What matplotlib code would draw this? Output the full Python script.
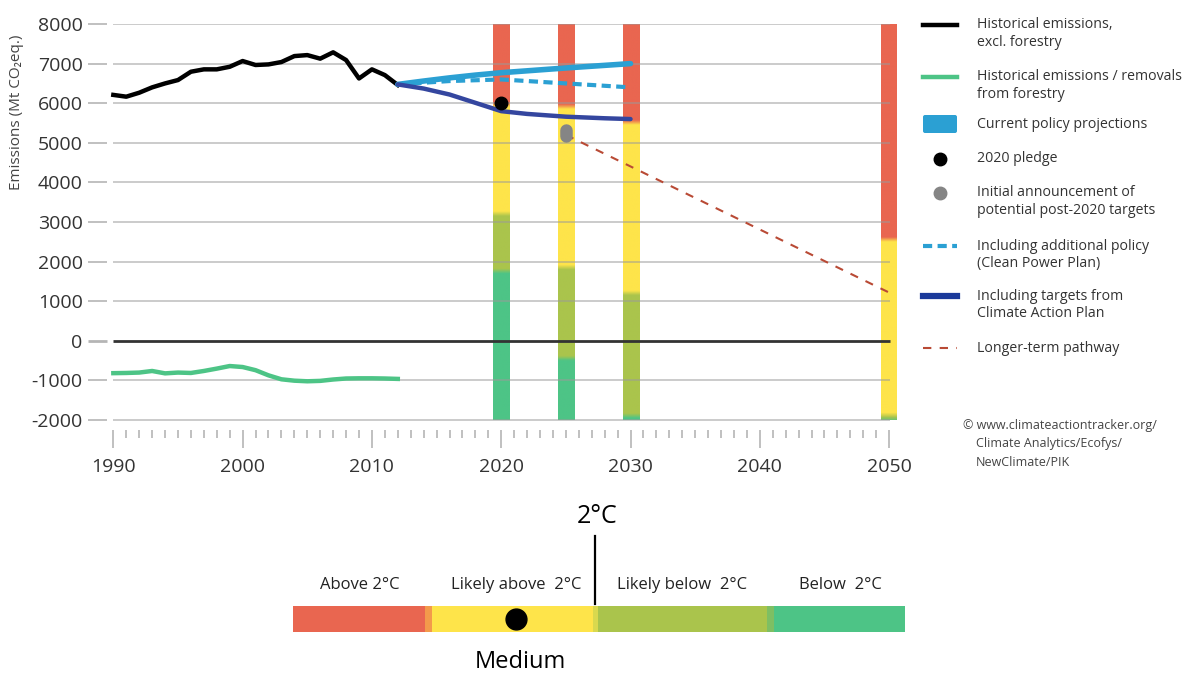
import numpy as np
import matplotlib
matplotlib.use("Agg")
import matplotlib.pyplot as plt
from matplotlib.colors import to_rgb
from matplotlib.patches import FancyBboxPatch

plt.rcParams['font.family'] = ['Open Sans', 'DejaVu Sans']

# historical data
hist_years = list(range(1990, 2013))
hist_emis = [6210, 6165, 6265, 6400, 6500, 6585, 6795, 6855, 6855, 6920, 7065, 6965,
             6980, 7040, 7190, 7215, 7125, 7285, 7090, 6625, 6855, 6710, 6460]
forest = [-815, -810, -800, -760, -820, -800, -810, -760, -700, -635, -660, -740,
          -870, -970, -1005, -1020, -1010, -975, -950, -945, -945, -950, -960]

# projections
cpp_years = [2012, 2014, 2016, 2018, 2020, 2025, 2030]
cpp_vals = [6475, 6560, 6640, 6710, 6770, 6890, 7000]
addl_years = [2012, 2016, 2020, 2025, 2030]
addl_vals = [6475, 6560, 6600, 6500, 6400]
cap_years = [2012, 2014, 2016, 2018, 2020, 2022, 2025, 2028, 2030]
cap_vals = [6475, 6370, 6220, 6010, 5800, 5730, 5660, 5620, 5600]
pledge_year, pledge_val = 2020, 6000
post2020_year, post2020_range = 2025, [5180, 5330]
longterm_years = [2025, 2050]
longterm_vals = [5200, 1220]

# rating columns: year, red above t1, yellow above t2, olive above t3, green below
col_years = [2020, 2025, 2030, 2050]
col_t1 = [5950, 5900, 5500, 2550]
col_t2 = [3200, 1850, 1200, -1880]
col_t3 = [1750, -450, -1900, -1990]

# rating bar
rating_widths = [21.6, 1.1, 26.3, 0.9, 27.6, 1.1, 21.4]
rating_colors = ['#E96650', '#F39A4B', '#FEE44A', '#D9D94E', '#AAC44C', '#7EBF63', '#4DC486']
rating_labels = ['Above 2°C', 'Likely above  2°C', 'Likely below  2°C', 'Below  2°C']
rating_label_pos = [10.9, 36.5, 63.6, 89.4]
rating_value = 36.4
two_deg_pos = 49.3

RED, YEL, OLI, GRN = '#E96650', '#FEE44A', '#AAC44C', '#4DC486'

fig = plt.figure(figsize=(11.86, 6.73), dpi=100)
W, H = 1186, 673
ax = fig.add_axes([107 / W, 1 - 430 / H, (897 - 107) / W, (430 - 24) / H])

yt = list(range(-2000, 8001, 1000))
ax.set_yticks(yt)
ax.set_yticklabels([str(v) for v in yt])
ax.hlines([v for v in yt if v != 0], 1990, 2050.1, color='#9a9a9a', lw=1.3, alpha=0.55, zorder=3)
ax.hlines(0, 1990, 2050.1, color='#333333', lw=2, zorder=3)

# gradient columns
n = 500
yy = np.linspace(-2000, 8000, n)
blend = 120.0
for yr, t1, t2, t3 in zip(col_years, col_t1, col_t2, col_t3):
    img = np.zeros((n, 1, 3))
    for i, v in enumerate(yy):
        c = np.array(to_rgb(GRN))
        for t, col in [(t3, OLI), (t2, YEL), (t1, RED)]:
            w = np.clip((v - t) / blend + 0.5, 0, 1)
            c = c * (1 - w) + np.array(to_rgb(col)) * w
        img[i, 0] = c
    ax.imshow(img, extent=(yr - 0.62, yr + 0.62, -2000, 8000), origin='lower',
              aspect='auto', interpolation='bilinear', zorder=2)
ax.set_xlim(1989.51, 2050.61)
ax.set_ylim(-2250, 8000)

ax.plot(hist_years, hist_emis, color='black', lw=3.2, zorder=5, solid_joinstyle='round')
ax.plot(hist_years, forest, color='#4DC486', lw=3.2, zorder=5)
ax.plot(cpp_years, cpp_vals, color='#2BA0D3', lw=4, zorder=5, solid_capstyle='round')
ax.plot(addl_years, addl_vals, color='#2BA0D3', lw=3, ls=(0, (2.2, 1.3)), zorder=5)
ax.plot(cap_years, cap_vals, color='#34469F', lw=3.2, zorder=6, solid_capstyle='round')
ax.plot(longterm_years, longterm_vals, color='#B94A35', lw=1.5, ls=(0, (4, 4)), zorder=5)
ax.plot([post2020_year] * 2, post2020_range, color='#858585', lw=9,
        solid_capstyle='round', zorder=7)
ax.plot(pledge_year, pledge_val, 'o', color='black', ms=9, zorder=7)

ax.set_xticks(range(1990, 2051, 10))
ax.set_xticks(range(1990, 2051), minor=True)
ax.tick_params(axis='x', which='major', length=13, width=1.2, color='#b5b5b5',
               labelsize=14, labelcolor='#333333', pad=7)
ax.tick_params(axis='x', which='minor', length=6, width=1.2, color='#b5b5b5')
ax.tick_params(axis='y', length=13.5, width=1.2, color='#b5b5b5',
               labelsize=14, labelcolor='#333333', pad=4)
for t in ax.yaxis.get_major_ticks():
    if t.get_loc() == 0:
        t.tick1line.set_color('#333333')
        t.tick1line.set_markeredgewidth(2)
for s in ax.spines.values():
    s.set_visible(False)

fig.text(17 / W, 1 - 112 / H, 'Emissions (Mt CO₂eq.)', rotation=90, fontsize=11,
         color='#444444', ha='center', va='center')

# legend and notes drawn in pixel space
lax = fig.add_axes([0, 0, 1, 1], zorder=10)
lax.set_xlim(0, W)
lax.set_ylim(H, 0)
lax.axis('off')

leg_items = [
    (25, ['Historical emissions,', 'excl. forestry']),
    (77, ['Historical emissions / removals', 'from forestry']),
    (124, ['Current policy projections']),
    (159, ['2020 pledge']),
    (193, ['Initial announcement of', 'potential post-2020 targets']),
    (246, ['Including additional policy', '(Clean Power Plan)']),
    (296, ['Including targets from', 'Climate Action Plan']),
    (348, ['Longer-term pathway']),
]
for y, lines in leg_items:
    for k, line in enumerate(lines):
        lax.text(977, y + k * 17.5, line, fontsize=10.2, color='#333333', va='center', ha='left')

lax.plot([923, 957], [25, 25], color='black', lw=3.2)
lax.plot([923, 957], [77, 77], color='#4DC486', lw=3.2)
lax.add_patch(FancyBboxPatch((923, 115), 34, 18, boxstyle='round,pad=0,rounding_size=2',
                             color='#2BA0D3', lw=0))
lax.plot(940, 159, 'o', color='black', ms=9)
lax.plot(940, 193, 'o', color='#858585', ms=9)
lax.plot([923, 957], [246, 246], color='#2BA0D3', lw=3, ls=(0, (2.2, 1.3)))
lax.plot([923, 957], [296, 296], color='#1B3A9A', lw=4.5)
lax.plot([923, 957], [348, 348], color='#B94A35', lw=1.5, ls=(0, (4, 4)))

lax.text(963, 426, '© www.climateactiontracker.org/', fontsize=9, color='#444444', va='center', ha='left')
for k, line in enumerate(['Climate Analytics/Ecofys/', 'NewClimate/PIK']):
    lax.text(976, 444 + k * 18, line, fontsize=9, color='#444444', va='center', ha='left')

# rating bar
rax = fig.add_axes([293 / W, 1 - 632 / H, 612 / W, 26 / H])
rax.set_xlim(0, 100)
rax.set_ylim(0, 1)
rax.axis('off')
lefts = np.concatenate([[0], np.cumsum(rating_widths)[:-1]])
rax.barh(0.5, rating_widths, left=lefts, height=1, color=rating_colors, lw=0)
rax.plot(rating_value, 0.5, 'o', color='black', ms=15)
rax.plot([two_deg_pos, two_deg_pos], [1.08, 3.69], color='black', lw=1.6, clip_on=False)
for p, lab in zip(rating_label_pos, rating_labels):
    rax.text(p, 1.8, lab, fontsize=12, color='#222222', ha='center', va='center')
rax.text(two_deg_pos + 0.4, 4.45, '2°C', fontsize=18, color='black', ha='center', va='center')
rax.text(rating_value + 0.7, -1.15, 'Medium', fontsize=17, color='black', ha='center', va='center')

fig.savefig('out.png', dpi=100)
